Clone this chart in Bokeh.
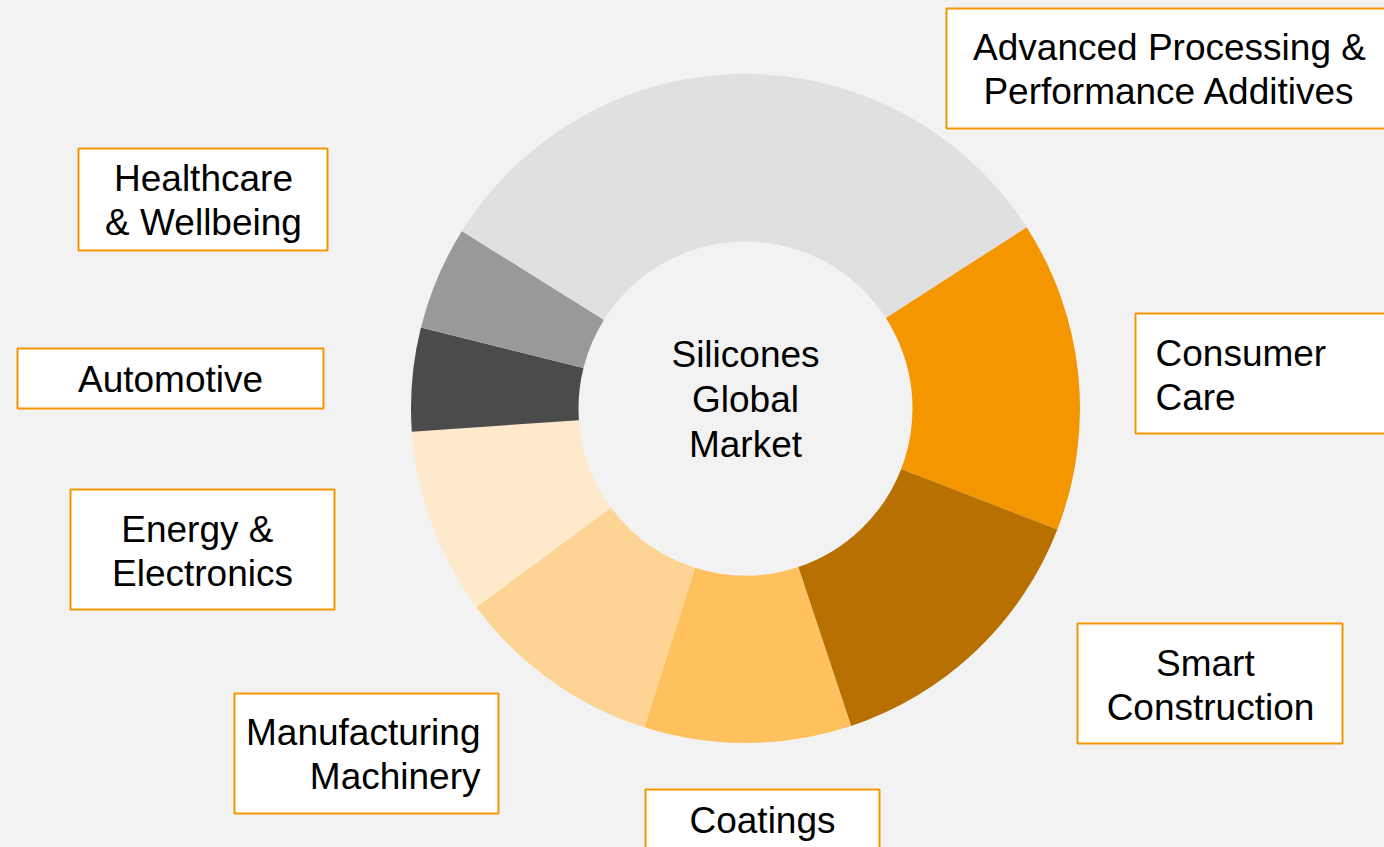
import math
from bokeh.plotting import figure
from bokeh.models import Range1d, ColumnDataSource
from bokeh.core.properties import value
from bokeh.embed import file_html
from bokeh.resources import INLINE

# ---- data (clockwise order, starting at upper left) ----
segments = ["Advanced Processing & Performance Additives", "Consumer Care",
            "Smart Construction", "Coatings", "Manufacturing Machinery",
            "Energy & Electronics", "Automotive", "Healthcare & Wellbeing"]
shares = [32, 15, 14, 10, 10, 9, 5, 5]
colors = ["#e0e0e0", "#f39600", "#b87100", "#ffc15e", "#fdd493",
          "#ffe9cb", "#4b4b4b", "#999999"]
label_texts = ["Advanced Processing &\nPerformance Additives", "Consumer\nCare",
               "Smart \nConstruction", "Coatings", "Manufacturing\nMachinery",
               "Energy & \nElectronics", "Automotive", "Healthcare\n& Wellbeing"]
center_title = "Silicones\nGlobal\nMarket"

# ---- layout (reference pixel coordinates, y measured from top) ----
W, H = 1384, 847
def Y(py):
    return H - py

cx, cy = 745, 408
r_in, r_out = 167, 334.5
start_deg = 148.0

# label boxes: left, right, top, bottom (pixels)
boxes = [(946, 1400, 8, 128), (1135, 1400, 313, 433), (1077, 1342, 623, 743),
         (645, 879, 789, 870), (234, 498, 693, 813), (70, 334, 489, 609),
         (17, 323, 348, 408), (78, 327, 148, 250)]
# text anchor x, y center, align
text_pos = [(1169, 69, "center"), (1155, 375, "left"), (1210, 685, "center"),
            (762, 820, "center"), (480, 754, "right"), (202, 551, "center"),
            (170, 379, "center"), (203, 200, "center")]

p = figure(width=W, height=H, output_backend="svg", toolbar_location=None,
           x_range=Range1d(0, W), y_range=Range1d(0, H),
           min_border=0, min_border_left=0, min_border_right=0,
           min_border_top=0, min_border_bottom=0)
p.axis.visible = False
p.grid.visible = False
p.outline_line_color = None
p.background_fill_color = "#f2f2f2"
p.border_fill_color = "#f2f2f2"

# wedges
total = float(sum(shares))
starts, ends = [], []
cum = 0.0
for s in shares:
    a0 = start_deg - cum / total * 360.0
    a1 = start_deg - (cum + s) / total * 360.0
    starts.append(math.radians(a1))
    ends.append(math.radians(a0))
    cum += s

src = ColumnDataSource(dict(segment=segments, share=shares, color=colors,
                            start=starts, end=ends))
p.annular_wedge(x=cx, y=Y(cy), inner_radius=r_in, outer_radius=r_out,
                start_angle="start", end_angle="end", direction="anticlock",
                fill_color="color", line_color=None, source=src)

# label boxes
p.quad(left=[b[0] for b in boxes], right=[b[1] for b in boxes],
       top=[Y(b[2]) for b in boxes], bottom=[Y(b[3]) for b in boxes],
       fill_color="white", line_color="#f39600", line_width=2)

font = value("Liberation Sans")
for t, (tx, ty, al) in zip(label_texts, text_pos):
    p.text(x=[tx], y=[Y(ty)], text=[t], text_font=font, text_font_size="37px",
           text_align=al, text_baseline="middle", text_color="black",
           text_line_height=1.09)

p.text(x=[cx], y=[Y(399)], text=[center_title], text_font=font,
       text_font_size="37px", text_align="center", text_baseline="middle",
       text_color="black", text_line_height=1.09)

tmpl = "{% block preamble %}<style>body{background:#f2f2f2;}</style>{% endblock %}"
open("out.html", "w").write(file_html(p, INLINE, template=tmpl))
